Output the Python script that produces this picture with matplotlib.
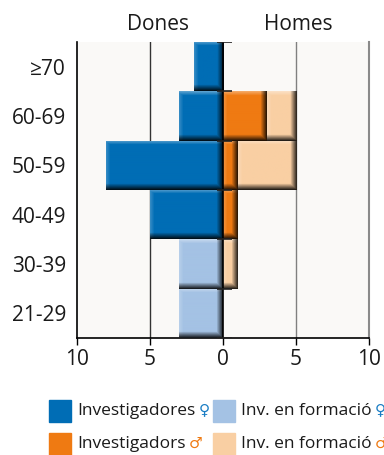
import matplotlib.pyplot as plt
import numpy as np
from matplotlib.colors import to_rgb
from matplotlib.patches import Rectangle

plt.rcParams['font.family'] = ['Open Sans', 'DejaVu Sans']

groups = ['≥70', '60-69', '50-59', '40-49', '30-39', '21-29']
inv_dones = [2, 3, 8, 5, 0, 0]
form_dones = [0, 0, 0, 0, 3, 3]
inv_homes = [0, 3, 1, 1, 0, 0]
form_homes = [0, 2, 4, 0, 1, 0]
xticks = [-10, -5, 0, 5, 10]
xtick_labels = ['10', '5', '0', '5', '10']

c_inv_d = '#006db5'
c_form_d = '#a4c2e4'
c_inv_h = '#ef7a12'
c_form_h = '#f9cfa3'

fig = plt.figure(figsize=(3.84, 4.55), dpi=100)
ax = fig.add_axes([77/384, 1 - 338/455, 292/384, 296/455])
ax.set_facecolor('#faf9f7')

y = np.arange(len(groups))
idn, fdn = np.array(inv_dones), np.array(form_dones)
ihm, fhm = np.array(inv_homes), np.array(form_homes)

bars = []
bars += list(ax.barh(y, -idn, height=1, color=c_inv_d, zorder=2))
bars += list(ax.barh(y, -fdn, left=-idn, height=1, color=c_form_d, zorder=2))
bars += list(ax.barh(y, ihm, height=1, color=c_inv_h, zorder=2))
bars += list(ax.barh(y, fhm, left=ihm, height=1, color=c_form_h, zorder=2))

ax.set_xlim(-10, 10)
ax.set_ylim(len(groups) - 0.5, -0.5)

# bevel shading, light from top-left
px_per_x = 292 / 20
px_per_y = 296 / len(groups)
for p in bars:
    bb = p.get_bbox()
    x0, x1 = sorted([bb.x0, bb.x1])
    y0, y1 = sorted([bb.y0, bb.y1])
    if x1 - x0 <= 0:
        continue
    nx = max(int(round((x1 - x0) * px_per_x)), 2)
    ny = max(int(round((y1 - y0) * px_per_y)), 2)
    base = np.array(to_rgb(p.get_facecolor()))
    img = np.ones((ny, nx, 3)) * base
    col = np.arange(nx)
    row = np.arange(ny)
    # top / left highlight
    hl_r = np.clip(1 - row / 4.0, 0, 1) * 0.35
    hl_c = np.clip(1 - col / 4.0, 0, 1) * 0.2
    hl = np.maximum(hl_r[:, None], hl_c[None, :])
    img = img + (1 - img) * hl[:, :, None]
    # bottom / right shadow
    sh_r = np.clip(1 - (ny - 1 - row) / 6.0, 0, 1) * 0.85
    sh_c = np.clip(1 - (nx - 1 - col) / 6.0, 0, 1) * 0.8
    sh = np.maximum(sh_r[:, None], sh_c[None, :])
    img = img * (1 - sh[:, :, None])
    im = ax.imshow(img, extent=(x0, x1, y1, y0), origin='upper',
                   aspect='auto', zorder=3, interpolation='bilinear')
    im.set_clip_path(p)

ax.set_xlim(-10, 10)
ax.set_ylim(len(groups) - 0.5, -0.5)

ax.axvline(-5, color='#333333', lw=1, zorder=1)
ax.axvline(5, color='#808080', lw=1, zorder=1)
ax.axvline(0, color='black', lw=1.2, zorder=4)
ax.hlines(np.arange(len(groups) + 1) - 0.5, -0.4, 0.6, color='#222222',
          lw=1.2, zorder=4)

ax.set_yticks(y)
ax.set_yticklabels(groups, fontsize=15, color='#1a1a1a')
ax.tick_params(axis='y', length=0, pad=8)
ax.set_xticks(xticks)
ax.set_xticklabels(xtick_labels, fontsize=15, color='#1a1a1a')
ax.tick_params(axis='x', length=5, width=1, pad=3)

ax.spines['top'].set_visible(False)
ax.spines['left'].set_color('black')
ax.spines['left'].set_linewidth(1.2)
ax.spines['bottom'].set_color('black')
ax.spines['bottom'].set_linewidth(1.2)
ax.spines['right'].set_color('#8a8a8a')
ax.spines['right'].set_linewidth(1.5)

fig.text(158/384, 1 - 24/455, 'Dones', ha='center', va='center',
         fontsize=15, color='#1a1a1a')
fig.text(298/384, 1 - 24/455, 'Homes', ha='center', va='center',
         fontsize=15, color='#1a1a1a')

# legend (the last column runs off the right edge, as in the original)
entries = [
    (49, 411, c_inv_d, 'Investigadores', '♀', '#1a7dc4'),
    (213, 411, c_form_d, 'Inv. en formació', '♀', '#1a7dc4'),
    (49, 444, c_inv_h, 'Investigadors', '♂', '#ef7a12'),
    (213, 444, c_form_h, 'Inv. en formació', '♂', '#ef7a12'),
]
for xp, yp, c, lab, sym, sc in entries:
    fig.add_artist(Rectangle((xp/384, 1 - (yp + 11)/455), 22/384, 22/455,
                             transform=fig.transFigure, color=c))
    t = fig.text((xp + 28)/384, 1 - yp/455, lab, ha='left', va='center',
                 fontsize=12.5, color='#1a1a1a')
    ax.annotate(sym, xy=(1, 0.5), xycoords=t, xytext=(2.5, 0),
                textcoords='offset points', ha='left', va='center',
                fontsize=11, color=sc, annotation_clip=False)

plt.savefig('out.png', dpi=100)
